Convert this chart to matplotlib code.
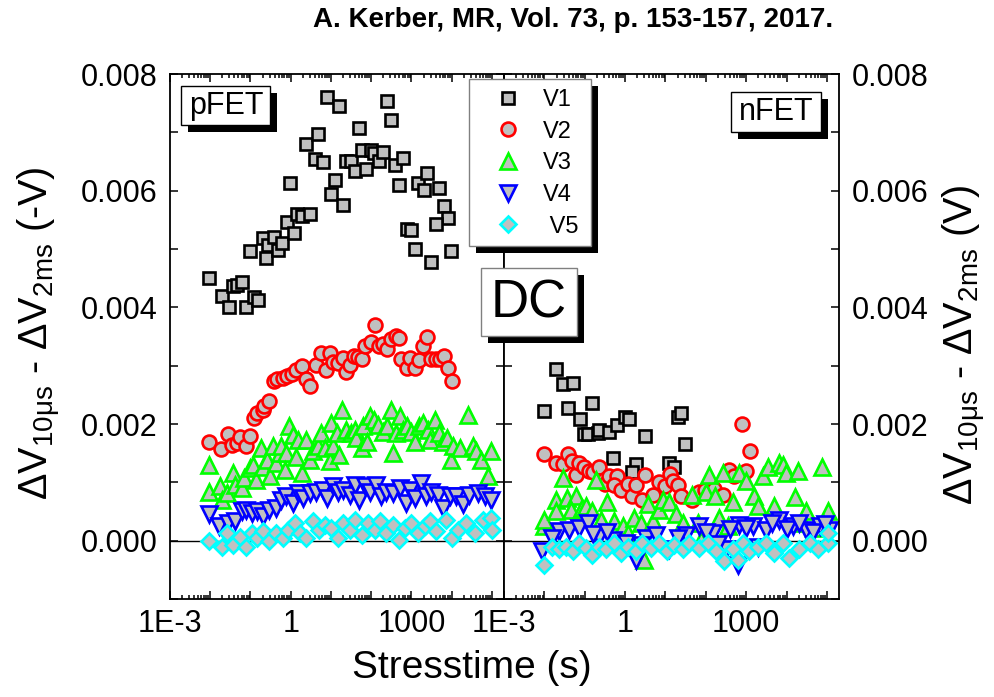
import numpy as np
import matplotlib
matplotlib.use('Agg')
import matplotlib.pyplot as plt
from matplotlib.patches import Rectangle
from matplotlib.ticker import LogLocator, MultipleLocator, FuncFormatter, FormatStrFormatter

plt.rcParams['font.family'] = ['Liberation Sans', 'DejaVu Sans']
plt.rcParams['mathtext.fontset'] = 'custom'
plt.rcParams['mathtext.rm'] = 'Liberation Sans'

# ---- data: log10(stress time / s) and dV (V) ----
# pFET
p_v1_logt = [-2.02, -1.72, -1.54, -1.43, -1.34, -1.22, -1.11, -0.92, -0.81, -1.01, -0.62, -0.70, -0.56, -0.42, -0.31,
             -0.21, -0.10, 0.08, 0.16, 0.29, 0.49, -0.02, 0.37, 0.68, 0.60, 0.79, 0.89, 1.19, 1.09, 0.99, 1.29, 1.38,
             1.51, 1.59, 1.69, 1.77, 1.88, 1.99, 2.06, 2.19, 2.29, 2.39, 2.49, 2.59, 2.79, 2.69, 3.16, 3.38, 3.30,
             3.68, 3.80, 3.91, 3.60, 2.89, 3.00, 3.10, 3.49, 3.99]
p_v1 = [0.00450, 0.00420, 0.00401, 0.00437, 0.00439, 0.00444, 0.00400, 0.00418, 0.00412, 0.00496, 0.00485, 0.00519,
        0.00507, 0.00521, 0.00498, 0.00510, 0.00546, 0.00527, 0.00560, 0.00556, 0.00560, 0.00614, 0.00680, 0.00698,
        0.00654, 0.00650, 0.00760, 0.00746, 0.00618, 0.00594, 0.00576, 0.00651, 0.00651, 0.00634, 0.00707, 0.00669,
        0.00638, 0.00670, 0.00665, 0.00651, 0.00667, 0.00753, 0.00722, 0.00644, 0.00656, 0.00610, 0.00613, 0.00630,
        0.00602, 0.00604, 0.00574, 0.00553, 0.00543, 0.00534, 0.00532, 0.00500, 0.00477, 0.00497]

p_v2_logt = [-2.02, -1.73, -1.55, -1.47, -1.34, -1.25, -1.11, -1.01, -0.92, -0.83, -0.70, -0.66, -0.54, -0.42, -0.34,
             -0.20, -0.09, 0.02, 0.14, 0.27, 0.37, 0.49, 0.64, 0.76, 0.87, 0.97, 1.05, 1.18, 1.29, 1.38, 1.47, 1.57,
             1.67, 1.78, 1.84, 1.99, 2.10, 2.19, 2.29, 2.39, 2.50, 2.61, 2.69, 2.75, 2.89, 2.97, 3.08, 3.19, 3.29,
             3.39, 3.49, 3.62, 3.72, 3.80, 3.91, 4.00]
p_v2 = [0.00170, 0.00157, 0.00183, 0.00164, 0.00168, 0.00178, 0.00163, 0.00180, 0.00210, 0.00219, 0.00224, 0.00231,
        0.00239, 0.00273, 0.00277, 0.00279, 0.00283, 0.00286, 0.00292, 0.00300, 0.00277, 0.00266, 0.00301, 0.00322,
        0.00292, 0.00322, 0.00307, 0.00305, 0.00313, 0.00290, 0.00301, 0.00317, 0.00315, 0.00311, 0.00333, 0.00341,
        0.00370, 0.00333, 0.00337, 0.00328, 0.00346, 0.00351, 0.00347, 0.00311, 0.00296, 0.00313, 0.00296, 0.00310,
        0.00334, 0.00349, 0.00311, 0.00311, 0.00311, 0.00317, 0.00296, 0.00273]

p_v3_logt = [-2.02, -2.02, -1.76, -1.72, -1.59, -1.43, -1.39, -1.22, -1.16, -1.01, -0.93, -0.87, -0.75, -0.68, -0.60,
             -0.52, -0.44, -0.37, -0.27, -0.23, -0.11, -0.15, -0.04, 0.06, 0.13, 0.18, 0.29, 0.39, 0.47, 0.56, 0.68,
             0.76, 0.85, 0.97, 1.01, 1.05, 1.14, 1.20, 1.28, 1.38, 1.51, 1.59, 1.63, 1.76, 1.80, 1.90, 1.96, 2.06,
             2.17, 2.29, 2.39, 2.48, 2.54, 2.61, 2.71, 2.79, 2.89, 3.00, 3.08, 3.19, 3.29, 3.41, 3.47, 3.58, 3.68,
             3.78, 3.88, 3.99, 4.03, 4.20, 4.40, 4.53, 4.61, 4.73, 4.90, 4.98]
p_v3 = [0.00130, 0.00084, 0.00093, 0.00070, 0.00082, 0.00116, 0.00096, 0.00090, 0.00107, 0.00125, 0.00130, 0.00104,
        0.00159, 0.00127, 0.00139, 0.00110, 0.00162, 0.00133, 0.00150, 0.00162, 0.00150, 0.00122, 0.00196, 0.00182,
        0.00144, 0.00173, 0.00116, 0.00173, 0.00139, 0.00153, 0.00162, 0.00184, 0.00159, 0.00136, 0.00202, 0.00162,
        0.00184, 0.00147, 0.00224, 0.00190, 0.00184, 0.00190, 0.00176, 0.00159, 0.00196, 0.00170, 0.00213, 0.00207,
        0.00199, 0.00187, 0.00196, 0.00224, 0.00150, 0.00184, 0.00213, 0.00190, 0.00196, 0.00187, 0.00170, 0.00196,
        0.00202, 0.00190, 0.00173, 0.00207, 0.00184, 0.00170, 0.00176, 0.00139, 0.00162, 0.00159, 0.00216, 0.00162,
        0.00153, 0.00139, 0.00110, 0.00153]

p_v4_logt = [-2.02, -1.78, -1.55, -1.39, -1.22, -1.11, -0.95, -0.83, -0.68, -0.54, -0.37, -0.23, -0.11, 0.06, 0.18,
             0.31, 0.47, 0.64, 0.79, 0.89, 1.05, 1.18, 1.30, 1.47, 1.59, 1.70, 1.84, 1.96, 2.13, 2.25, 2.38, 2.54,
             2.71, 2.86, 2.96, 3.10, 3.24, 3.37, 3.49, 3.66, 3.78, 3.95, 4.11, 4.28, 4.44, 4.65, 4.82, 4.98]
p_v4 = [0.00045, 0.00025, 0.00030, 0.00033, 0.00050, 0.00053, 0.00047, 0.00050, 0.00042, 0.00053, 0.00056, 0.00070,
        0.00076, 0.00065, 0.00082, 0.00073, 0.00082, 0.00084, 0.00087, 0.00073, 0.00093, 0.00084, 0.00087, 0.00079,
        0.00096, 0.00070, 0.00093, 0.00084, 0.00096, 0.00076, 0.00084, 0.00082, 0.00090, 0.00065, 0.00087, 0.00073,
        0.00099, 0.00076, 0.00084, 0.00079, 0.00056, 0.00076, 0.00076, 0.00062, 0.00079, 0.00082, 0.00076, 0.00070]

p_v5_logt = [-2.02, -1.72, -1.58, -1.43, -1.26, -1.11, -0.97, -0.83, -0.70, -0.54, -0.37, -0.20, -0.06, 0.10, 0.24,
             0.39, 0.56, 0.71, 0.85, 1.01, 1.18, 1.30, 1.47, 1.59, 1.76, 1.92, 2.09, 2.21, 2.38, 2.53, 2.69, 2.83,
             3.00, 3.16, 3.33, 3.45, 3.62, 3.85, 4.01, 4.15, 4.36, 4.57, 4.78, 4.98, 5.01]
p_v5 = [-0.00001, -0.00010, 0.00013, -0.00007, 0.00007, -0.00010, 0.00013, 0.00005, 0.00016, -0.00001, 0.00013,
        0.00005, 0.00019, 0.00030, 0.00013, 0.00005, 0.00033, 0.00019, 0.00027, 0.00022, 0.00005, 0.00030, 0.00019,
        0.00036, 0.00010, 0.00030, 0.00019, 0.00033, 0.00013, 0.00027, 0.00002, 0.00022, 0.00030, 0.00013, 0.00025,
        0.00033, 0.00016, 0.00036, 0.00005, 0.00019, 0.00030, 0.00013, 0.00036, 0.00039, 0.00019]

# nFET
n_v1_logt = [-2.01, -1.72, -1.55, -1.30, -1.41, -1.11, -0.81, -1.01, -0.91, -0.68, -0.64, -0.39, -0.21, 0.00, 0.10,
             -0.31, 0.50, 0.28, 0.18, 1.09, 1.20, 1.30, 1.38, 1.49]
n_v1 = [0.00223, 0.00295, 0.00269, 0.00271, 0.00228, 0.00208, 0.00236, 0.00183, 0.00183, 0.00184, 0.00190, 0.00187,
        0.00198, 0.00212, 0.00208, 0.00142, 0.00180, 0.00131, 0.00117, 0.00133, 0.00127, 0.00212, 0.00219, 0.00166]

n_v2_logt = [-2.01, -1.72, -1.55, -1.41, -1.32, -1.22, -1.14, -1.01, -0.89, -0.79, -0.64, -0.49, -0.39, -0.21, -0.27,
             -0.11, 0.08, 0.18, 0.28, 0.42, 0.50, 0.70, 0.83, 0.99, 1.11, 1.18, 1.30, 1.38, 1.67, 1.84, 1.99, 2.21,
             2.42, 2.58, 2.71, 3.00, 2.90, 3.10]
n_v2 = [0.00149, 0.00133, 0.00132, 0.00149, 0.00136, 0.00113, 0.00133, 0.00127, 0.00119, 0.00117, 0.00127, 0.00098,
        0.00110, 0.00110, 0.00096, 0.00087, 0.00098, 0.00076, 0.00096, 0.00069, 0.00112, 0.00079, 0.00100, 0.00093,
        0.00115, 0.00102, 0.00096, 0.00076, 0.00070, 0.00083, 0.00087, 0.00089, 0.00079, 0.00122, 0.00110, 0.00119,
        0.00200, 0.00153]

n_v3_logt = [-2.01, -2.01, -1.54, -1.72, -1.72, -1.43, -1.22, -1.35, -1.06, -0.96, -0.81, -0.73, -0.60, -0.44, -0.27,
             -0.06, 0.06, 0.23, 0.39, 0.56, 0.68, 0.85, 0.93, 1.09, 1.26, 1.43, 1.67, 1.80, 1.88, 2.00, 2.09, 2.24,
             2.32, 2.42, 2.54, 2.67, 2.83, 3.00, 3.20, 3.29, 3.41, 3.53, 3.70, 3.81, 3.91, 3.99, 4.20, 4.28, 4.40,
             4.49, 4.69, 4.88, 5.02, 4.90, 0.47]
n_v3 = [0.00026, 0.00036, 0.00107, 0.00070, 0.00050, 0.00073, 0.00076, 0.00053, 0.00056, 0.00059, 0.00050, 0.00104,
        0.00036, 0.00067, 0.00033, 0.00025, 0.00013, 0.00039, 0.00030, 0.00062, 0.00033, 0.00053, 0.00070, 0.00067,
        0.00045, 0.00030, 0.00079, 0.00030, 0.00002, 0.00084, 0.00113, 0.00076, 0.00039, 0.00116, 0.00025, 0.00067,
        0.00116, 0.00102, 0.00076, 0.00059, 0.00110, 0.00127, 0.00059, 0.00133, 0.00130, 0.00116, 0.00074, 0.00119,
        0.00030, 0.00050, 0.00022, 0.00127, 0.00050, 0.00030, -0.00033]

n_v4_logt = [-2.05, -1.64, -1.39, -1.14, -0.93, -0.64, -0.31, 0.02, 0.27, 0.52, 0.76, 1.09, 1.51, 1.84, 2.17, 2.50,
             2.83, 2.79, 3.16, 3.49, 3.82, 4.15, 4.49, 4.82, 5.06, -1.80, -0.80, -0.45, 0.40, 1.30, 2.00, 2.30, 2.60,
             3.00, 3.30, 3.65, 4.00, 4.30, 4.65, 4.95]
n_v4 = [-0.00018, 0.00016, 0.00019, 0.00022, 0.00030, 0.00007, 0.00002, -0.00004, -0.00033, 0.00005, 0.00010,
        -0.00015, 0.00010, 0.00025, 0.00013, -0.00015, 0.00027, -0.00041, 0.00025, 0.00019, 0.00036, 0.00025, 0.00019,
        0.00025, 0.00019, 0.00005, 0.00012, 0.00015, -0.00008, 0.00005, 0.00015, -0.00005, 0.00020, 0.00022, -0.00010,
        0.00030, 0.00020, 0.00030, 0.00015, 0.00028]

n_v5_logt = [-2.01, -1.80, -1.64, -1.47, -1.30, -1.14, -0.97, -0.81, -0.64, -0.48, -0.27, -0.11, 0.06, 0.27, 0.43,
             0.64, 0.85, 1.05, 1.22, 1.43, 1.59, 1.84, 2.05, 2.25, 2.46, 2.67, 2.79, 2.91, 3.08, 3.29, 3.49, 3.70,
             3.91, 4.07, 4.32, 4.57, 4.78, 5.02, 5.02]
n_v5 = [-0.00041, -0.00010, -0.00015, -0.00010, -0.00018, -0.00004, -0.00013, -0.00024, -0.00010, -0.00015, -0.00004,
        -0.00021, -0.00010, -0.00018, -0.00004, -0.00013, -0.00004, -0.00018, -0.00007, -0.00015, -0.00004, -0.00013,
        -0.00004, -0.00018, -0.00035, -0.00015, -0.00033, -0.00004, -0.00018, -0.00010, -0.00004, -0.00021, -0.00004,
        -0.00030, -0.00015, -0.00004, -0.00015, -0.00004, 0.00013]

labels = ['V1', 'V2', 'V3', 'V4', ' V5']
markers = ['s', 'o', '^', 'v', 'D']
msizes = [9, 10, 11, 11, 8.5]
edge_colors = ['black', 'red', '#00ff00', '#0000ff', '#00ffff']
fill = '#c0c0c0'

W, H = 994, 697
fig = plt.figure(figsize=(W / 100, H / 100), dpi=100)


def fx(px):
    return px / W


def fy(py):
    return 1 - py / H


ax1 = fig.add_axes([fx(170), fy(599), fx(504) - fx(170), fy(74) - fy(599)])
ax2 = fig.add_axes([fx(504), fy(599), fx(839) - fx(504), fy(74) - fy(599)])

pfet = [(p_v1_logt, p_v1), (p_v2_logt, p_v2), (p_v3_logt, p_v3), (p_v4_logt, p_v4), (p_v5_logt, p_v5)]
nfet = [(n_v1_logt, n_v1), (n_v2_logt, n_v2), (n_v3_logt, n_v3), (n_v4_logt, n_v4), (n_v5_logt, n_v5)]

handles = []
for ax, sets in ((ax1, pfet), (ax2, nfet)):
    for i, (lt, v) in enumerate(sets):
        h, = ax.plot(10 ** np.array(lt), v, linestyle='none', marker=markers[i], ms=msizes[i],
                     mfc=fill, mec=edge_colors[i], mew=1.9, label=labels[i])
        if ax is ax1:
            handles.append(h)


def major_fmt(v, pos):
    names = {-3: '1E-3', 0: '1', 3: '1000'}
    e = int(round(np.log10(v)))
    return names.get(e, '')


for ax in (ax1, ax2):
    ax.set_xscale('log')
    ax.set_xlim(1e-3, 10 ** 5.3)
    ax.set_ylim(-0.001, 0.008)
    ax.axhline(0, color='black', lw=1.0, zorder=1)
    ax.xaxis.set_major_locator(LogLocator(base=10, numticks=20))
    ax.xaxis.set_minor_locator(LogLocator(base=10, subs=np.arange(2, 10), numticks=20))
    ax.xaxis.set_major_formatter(FuncFormatter(major_fmt))
    ax.yaxis.set_major_locator(MultipleLocator(0.002))
    ax.yaxis.set_minor_locator(MultipleLocator(0.001))
    ax.yaxis.set_major_formatter(FormatStrFormatter('%.3f'))
    ax.tick_params(which='both', direction='in', top=True, bottom=True, left=True, right=True,
                   width=1.1, labelsize=22)
    ax.tick_params(axis='x', which='major', length=6, pad=7)
    ax.tick_params(axis='x', which='minor', length=3)
    ax.tick_params(axis='y', which='both', length=6, pad=9)
    for s in ax.spines.values():
        s.set_linewidth(1.3)

ax2.tick_params(axis='y', labelleft=False, labelright=True)

ylab = 'ΔV$_{\\mathregular{10μs}}$ - ΔV$_{\\mathregular{2ms}}$ '
fig.text(fx(40), fy(333), ylab + '(-V)', rotation=90, ha='center', va='center', fontsize=28.5)
fig.text(fx(964), fy(345), ylab + '(V)', rotation=90, ha='center', va='center', fontsize=28.5)
fig.text(fx(472), fy(668), 'Stresstime (s)', ha='center', va='center', fontsize=28)
fig.text(fx(833), fy(20), 'A. Kerber, MR, Vol. 73, p. 153-157, 2017.', ha='right', va='center',
         fontsize=20, fontweight='bold')


def shadow_box(x0, y0, x1, y1, ec='black'):
    off = 7
    fig.add_artist(Rectangle((fx(x0 + off), fy(y1 + off)), fx(x1) - fx(x0), fy(y0) - fy(y1),
                             transform=fig.transFigure, fc='black', ec='none', zorder=6))
    fig.add_artist(Rectangle((fx(x0), fy(y1)), fx(x1) - fx(x0), fy(y0) - fy(y1),
                             transform=fig.transFigure, fc='white', ec=ec, lw=1.0, zorder=7))


shadow_box(181, 86, 270, 125)
fig.text(fx(226), fy(106), 'pFET', ha='center', va='center', fontsize=22, zorder=8)
shadow_box(731, 92, 821, 132)
fig.text(fx(776), fy(112), 'nFET', ha='center', va='center', fontsize=22, zorder=8)
shadow_box(481, 268, 577, 336, ec='#808080')
fig.text(fx(529), fy(303), 'DC', ha='center', va='center', fontsize=38, zorder=8)
shadow_box(469, 79, 591, 246, ec='#808080')

leg = fig.legend(handles=handles, loc='upper left', bbox_to_anchor=(fx(484), fy(89)),
                 frameon=False, fontsize=17, borderpad=0, borderaxespad=0, handlelength=2.0,
                 handletextpad=0.5, labelspacing=0.41, numpoints=1)
leg.set_zorder(9)

fig.savefig('out.png', dpi=100)
